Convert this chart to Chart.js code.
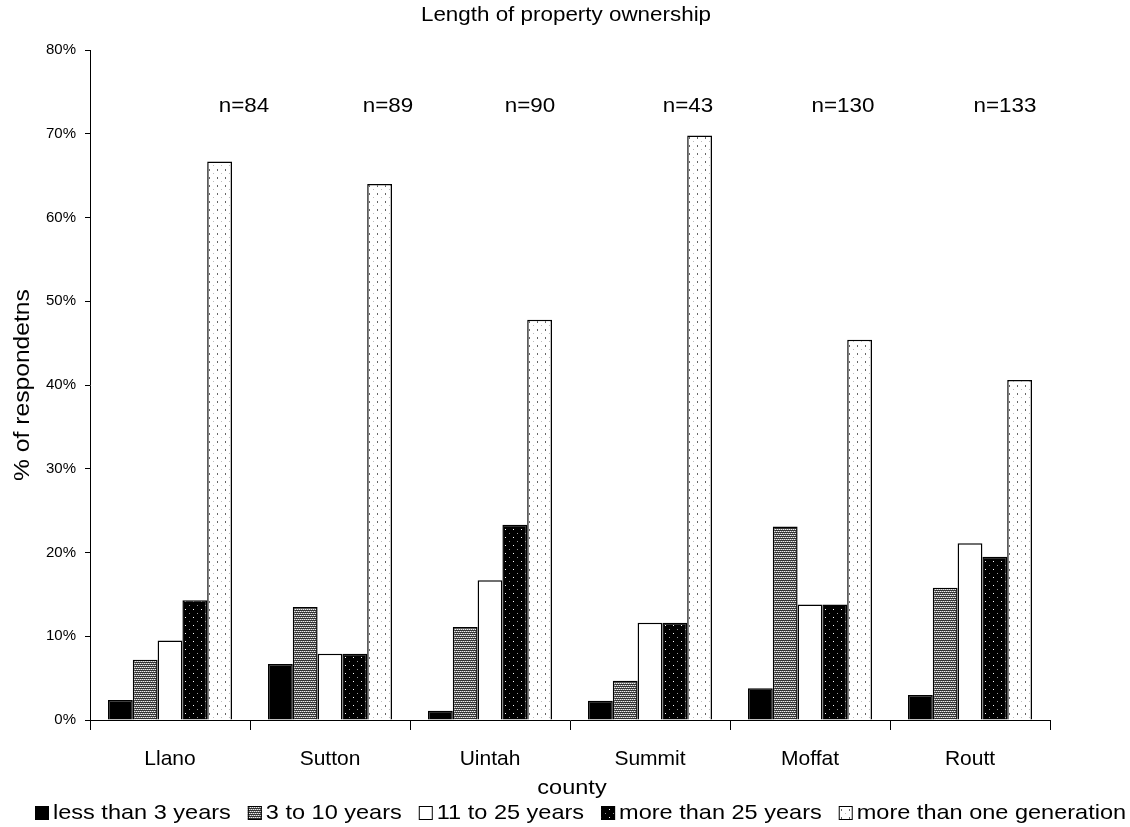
<!DOCTYPE html>
<html>
<head>
<meta charset="utf-8">
<script src="https://cdn.jsdelivr.net/npm/chart.js@4"></script>
<style>
  body { margin: 0; background: #fff; }
  #wrap { width: 1130px; height: 827px; }
</style>
</head>
<body>
<div id="wrap"><canvas id="myChart" width="1130" height="827"></canvas></div>
<script>
const counties = ["Llano", "Sutton", "Uintah", "Summit", "Moffat", "Routt"];
const sampleSizes = ["n=84", "n=89", "n=90", "n=43", "n=130", "n=133"];
const seriesNames = ["less than 3 years", "3 to 10 years", "11 to 25 years", "more than 25 years", "more than one generation"];

const lessThan3 = [2.4, 6.7, 1.1, 2.3, 3.8, 3.0];
const from3to10 = [7.2, 13.5, 11.1, 4.7, 23.1, 15.8];
const from11to25 = [9.5, 7.9, 16.7, 11.6, 13.8, 21.1];
const moreThan25 = [14.3, 7.9, 23.3, 11.6, 13.8, 19.5];
const generation = [66.7, 64.0, 47.8, 69.8, 45.4, 40.6];

const yTicks = [0, 10, 20, 30, 40, 50, 60, 70, 80];

// where the n= labels sit, px right of each category centre
const nOffsets = [74, 58, 40, 38, 33, 35];

const font = "'Liberation Sans', Arial, sans-serif";
const stretch = 1.12; // the original text is a bit wide

// fill patterns
const makePattern = (w, h, draw) => {
  const c = document.createElement("canvas");
  c.width = w;
  c.height = h;
  const g = c.getContext("2d");
  draw(g);
  return g.createPattern(c, "repeat");
};

const grayStripes = makePattern(4, 4, (g) => {
  g.fillStyle = "#eee";
  g.fillRect(0, 0, 4, 4);
  g.fillStyle = "#333";
  g.fillRect(0, 0, 4, 1);
  g.fillRect(0, 2, 4, 1);
  g.fillStyle = "#888";
  g.fillRect(0, 1, 1, 1);
  g.fillRect(2, 1, 1, 1);
  g.fillRect(1, 3, 1, 1);
  g.fillRect(3, 3, 1, 1);
});

const blackDots = makePattern(8, 8, (g) => {
  g.fillStyle = "#000";
  g.fillRect(0, 0, 8, 8);
  g.fillStyle = "#fff";
  g.fillRect(1, 1, 1, 1);
  g.fillStyle = "#999";
  g.fillRect(5, 5, 1, 1);
});

const whiteDots = makePattern(8, 8, (g) => {
  g.fillStyle = "#fff";
  g.fillRect(0, 0, 8, 8);
  g.fillStyle = "#666";
  g.fillRect(1, 1, 1, 2);
  g.fillStyle = "#bbb";
  g.fillRect(5, 5, 1, 1);
});

const fills = ["#000", grayStripes, "#fff", blackDots, whiteDots];
const values = [lessThan3, from3to10, from11to25, moreThan25, generation];

// draw text slightly widened, like the source
const wideText = (ctx, text, x, y, align, angle) => {
  ctx.save();
  ctx.translate(x, y);
  if (angle) ctx.rotate(angle);
  ctx.scale(stretch, 1);
  ctx.textAlign = align;
  ctx.textBaseline = "middle";
  ctx.fillText(text, 0, 0);
  ctx.restore();
};

const extraText = {
  id: "extraText",
  afterDraw(chart) {
    const ctx = chart.ctx;
    const x = chart.scales.x;
    const y = chart.scales.y;
    const area = chart.chartArea;
    ctx.save();
    ctx.fillStyle = "#000";

    ctx.font = "20px " + font;
    wideText(ctx, "Length of property ownership", 566, 15, "center");

    ctx.font = "20px " + font;
    sampleSizes.forEach((t, i) => {
      wideText(ctx, t, x.getPixelForValue(i) + nOffsets[i], y.getPixelForValue(73.2), "center");
    });

    // axis titles
    ctx.font = "22px " + font;
    wideText(ctx, "% of respondetns", 23, (area.top + area.bottom) / 2, "center", -Math.PI / 2);
    ctx.font = "21px " + font;
    wideText(ctx, "county", 572, 788, "center");

    // legend
    ctx.font = "21px " + font;
    let lx = 35;
    const ly = 813;
    seriesNames.forEach((name, i) => {
      ctx.fillStyle = fills[i];
      ctx.fillRect(lx, ly - 7, 14, 14);
      ctx.strokeStyle = "#000";
      ctx.lineWidth = 1;
      ctx.strokeRect(lx + 0.5, ly - 6.5, 13, 13);
      ctx.fillStyle = "#000";
      wideText(ctx, name, lx + 18, ly, "left");
      lx += 18 + ctx.measureText(name).width * stretch + 17;
    });
    ctx.restore();
  },
};

const ctx = document.getElementById("myChart").getContext("2d");
new Chart(ctx, {
  type: "bar",
  data: {
    labels: counties,
    datasets: seriesNames.map((name, i) => ({
      label: name,
      data: values[i],
      backgroundColor: fills[i],
      borderColor: "#000",
      borderWidth: 1.5,
      categoryPercentage: 0.775,
      barPercentage: 1,
    })),
  },
  options: {
    responsive: false,
    animation: false,
    layout: { padding: { top: 50, right: 80, left: 0, bottom: 0 } },
    plugins: {
      legend: { display: false },
      title: { display: false },
      tooltip: { enabled: false },
    },
    scales: {
      x: {
        grid: { drawOnChartArea: false, drawTicks: true, tickLength: 10, color: "#000", offset: true },
        border: { color: "#000", width: 1 },
        ticks: { color: "#000", font: { family: font, size: 21 }, padding: 17 },
        afterFit: (axis) => { axis.height = 107; },
      },
      y: {
        min: 0,
        max: 80,
        afterBuildTicks: (axis) => { axis.ticks = yTicks.map((v) => ({ value: v })); },
        grid: { drawOnChartArea: false, drawTicks: true, tickLength: 5, color: "#000" },
        border: { color: "#000", width: 1 },
        ticks: { color: "#000", font: { family: font, size: 15 }, padding: 9, callback: (v) => v + "%" },
        afterFit: (axis) => { axis.width = 90; },
      },
    },
  },
  plugins: [extraText],
});
</script>
</body>
</html>
